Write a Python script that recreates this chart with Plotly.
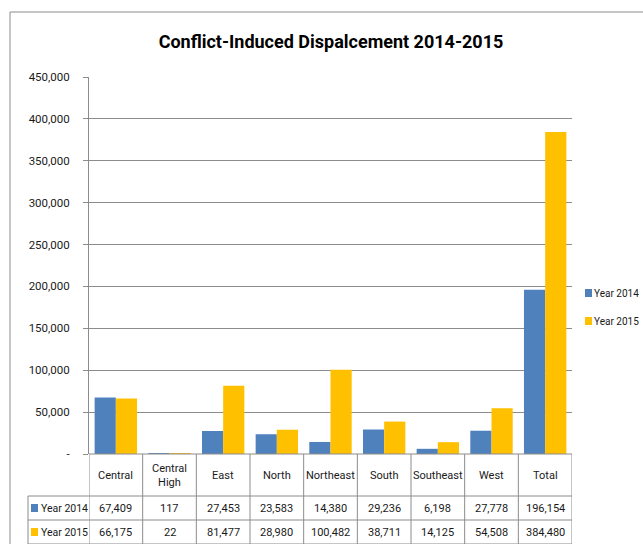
import plotly.graph_objects as go

categories = ["Central", "Central<br>High", "East", "North", "Northeast", "South", "Southeast", "West", "Total"]
year2014 = [67409, 117, 27453, 23583, 14380, 29236, 6198, 27778, 196154]
year2015 = [66175, 22, 81477, 28980, 100482, 38711, 14125, 54508, 384480]
series_names = ["Year 2014", "Year 2015"]
colors = ["#4F81BD", "#FFC000"]
ytick_vals = [0, 50000, 100000, 150000, 200000, 250000, 300000, 350000, 400000, 450000]
ytick_text = ["-", "50,000", "100,000", "150,000", "200,000", "250,000", "300,000", "350,000", "400,000", "450,000"]
title = "Conflict-Induced Dispalcement 2014-2015"

FONT = "Roboto, sans-serif"
W, H = 643, 544
L, R, T, B = 89, 572, 77, 454  # plot area pixels

def px(p):
    return (p - L) / (R - L)

def py(p):
    return (B - p) / (B - T)

fig = go.Figure()
for name, vals, col in zip(series_names, [year2014, year2015], colors):
    fig.add_trace(go.Bar(x=list(range(len(categories))), y=vals, name=name,
                         marker=dict(color=col, line=dict(width=0)),
                         showlegend=False))

shapes = []
annotations = []
grid_col = "#8C8C8C"
txt_col = "#1a1a1a"

# outer chart border
shapes.append(dict(type="rect", xref="paper", yref="paper",
                   x0=px(10), x1=px(660), y0=py(560), y1=py(12),
                   line=dict(color="#8C8C8C", width=1), layer="below"))

# table horizontal lines
row_lines = [454, 496, 520, 544]
shapes.append(dict(type="line", xref="paper", yref="paper", x0=px(L), x1=px(R),
                   y0=py(454), y1=py(454), line=dict(color=grid_col, width=1)))
for yl in row_lines[1:]:
    shapes.append(dict(type="line", xref="paper", yref="paper", x0=px(28), x1=px(R),
                       y0=py(yl), y1=py(yl), line=dict(color=grid_col, width=1)))
# vertical lines at category boundaries
for i in range(len(categories) + 1):
    shapes.append(dict(type="line", xref="x", yref="paper", x0=i - 0.5, x1=i - 0.5,
                       y0=py(454), y1=py(548), line=dict(color=grid_col, width=1)))
# left edge of legend key column
shapes.append(dict(type="line", xref="paper", yref="paper", x0=px(28), x1=px(28),
                   y0=py(496), y1=py(548), line=dict(color=grid_col, width=1)))

# header text
for i, c in enumerate(categories):
    annotations.append(dict(x=i, y=py(475), xref="x", yref="paper", text=c,
                            showarrow=False, font=dict(family=FONT, size=11, color=txt_col),
                            xanchor="center", yanchor="middle"))
# value rows
row_centers = [508, 532]
for r, (name, vals, col) in enumerate(zip(series_names, [year2014, year2015], colors)):
    yc = row_centers[r]
    for i, v in enumerate(vals):
        annotations.append(dict(x=i, y=py(yc), xref="x", yref="paper", text=f"{v:,}",
                                showarrow=False, font=dict(family=FONT, size=11, color=txt_col),
                                xanchor="center", yanchor="middle"))
    annotations.append(dict(x=px(39), y=py(yc), xref="paper", yref="paper", text=name,
                            showarrow=False, font=dict(family=FONT, size=10.5, color=txt_col),
                            xanchor="left", yanchor="middle"))
    shapes.append(dict(type="rect", xref="paper", yref="paper", x0=px(31), x1=px(38),
                       y0=py(yc + 4), y1=py(yc - 4), fillcolor=col, line=dict(width=0)))

# side legend
legend_centers = [293, 321]
for name, col, yc in zip(series_names, colors, legend_centers):
    shapes.append(dict(type="rect", xref="paper", yref="paper", x0=px(585), x1=px(592),
                       y0=py(yc + 4), y1=py(yc - 4), fillcolor=col, line=dict(width=0)))
    annotations.append(dict(x=px(592), y=py(yc), xref="paper", yref="paper", text=name,
                            showarrow=False, font=dict(family=FONT, size=10, color=txt_col),
                            xanchor="left", yanchor="middle"))

fig.update_layout(
    width=W, height=H,
    margin=dict(l=L, r=W - R, t=T, b=H - B, pad=0, autoexpand=False),
    paper_bgcolor="white", plot_bgcolor="white",
    title=dict(text="<b>" + title + "</b>", x=331 / W, xanchor="center", xref="container",
               y=1 - 42 / H, yanchor="middle", yref="container",
               font=dict(family=FONT, size=18, color="#000")),
    barmode="group", bargap=0.21, bargroupgap=0,
    showlegend=False,
    font=dict(family=FONT, size=12, color=txt_col),
    xaxis=dict(range=[-0.5, len(categories) - 0.5], showticklabels=False, ticks="",
               showgrid=False, zeroline=False, showline=False, fixedrange=True),
    yaxis=dict(range=[0, 450000], tickvals=ytick_vals, ticktext=ytick_text,
               showgrid=True, gridcolor=grid_col, gridwidth=1, zeroline=False,
               showline=True, linecolor=grid_col, linewidth=1,
               ticks="outside", ticklen=5, tickcolor=grid_col, ticklabelstandoff=11,
               tickfont=dict(family=FONT, size=11.5, color=txt_col)),
    shapes=shapes, annotations=annotations,
)

fig.write_html("out.html")
